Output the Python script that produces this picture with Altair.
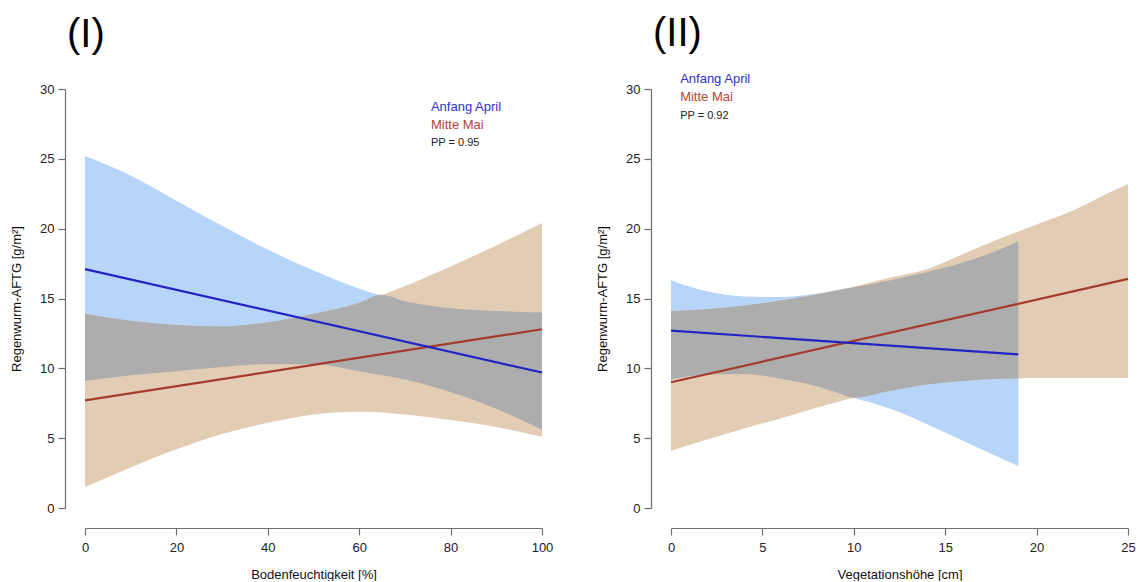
import altair as alt
import numpy as np
import pandas as pd

# ---- (I) Bodenfeuchtigkeit [%] ----
soil_x = [0, 10, 20, 30, 40, 50, 60, 70, 80, 90, 100]
soil_april_lo = [9.1, 9.5, 9.8, 10.1, 10.3, 10.3, 9.8, 9.2, 8.3, 7.1, 5.6]
soil_april_hi = [25.2, 23.8, 22.0, 20.2, 18.5, 17.0, 15.7, 14.8, 14.3, 14.1, 14.0]
soil_mai_lo = [1.5, 2.9, 4.2, 5.3, 6.1, 6.7, 6.9, 6.7, 6.3, 5.8, 5.1]
soil_mai_hi = [13.9, 13.4, 13.1, 13.0, 13.3, 13.9, 14.7, 15.9, 17.3, 18.8, 20.4]
soil_line_x = [0, 100]
soil_april_line = [17.1, 9.7]
soil_mai_line = [7.7, 12.8]

# ---- (II) Vegetationshöhe [cm] ----
veg_april_x = [0, 2, 4, 6, 8, 10, 12, 14, 16, 18, 19]
veg_april_lo = [9.2, 9.55, 9.6, 9.25, 8.7, 7.9, 7.1, 6.0, 4.8, 3.6, 3.0]
veg_april_hi = [16.3, 15.5, 15.15, 15.1, 15.35, 15.8, 16.3, 16.9, 17.6, 18.5, 19.1]
veg_mai_x = [0, 2, 4, 6, 8, 10, 12, 14, 16, 18, 19, 20, 22, 24, 25]
veg_mai_lo = [4.1, 4.9, 5.7, 6.4, 7.2, 7.9, 8.4, 8.85, 9.1, 9.25, 9.28, 9.3, 9.3, 9.3, 9.3]
veg_mai_hi = [14.1, 14.25, 14.5, 14.85, 15.3, 15.85, 16.5, 17.1, 18.2, 19.3, 19.8, 20.3, 21.3, 22.6, 23.2]
veg_april_line_x = [0, 19]
veg_april_line = [12.7, 11.0]
veg_mai_line_x = [0, 25]
veg_mai_line = [9.0, 16.4]

series_names = ["Anfang April", "Mitte Mai"]
series_text_colors = ["#3030d0", "#b0463a"]
pp_texts = ["PP = 0.95", "PP = 0.92"]

y_ticks = [0, 5, 10, 15, 20, 25, 30]
y_title = "Regenwurm-AFTG [g/m²]"

APRIL_FILL = "#b6d5f8"
MAI_FILL = "#e2cdb4"
BOTH_FILL = "#adadad"
APRIL_LINE = "#2424c4"
MAI_LINE = "#a53b2c"


def band(x, lo, hi):
    return pd.DataFrame({"x": x, "lo": lo, "hi": hi})


def overlap(x, lo_a, hi_a, x_b, lo_b, hi_b):
    """Region covered by both bands, on x plus the points where edges cross."""
    x = np.asarray(x, float)
    la, ha = np.asarray(lo_a, float), np.asarray(hi_a, float)
    lb = np.interp(x, x_b, lo_b)
    hb = np.interp(x, x_b, hi_b)
    xs = list(x)
    for p, q in [(ha, hb), (la, lb)]:
        d = p - q
        for i in range(len(x) - 1):
            if d[i] * d[i + 1] < 0:
                t = d[i] / (d[i] - d[i + 1])
                xs.append(x[i] + t * (x[i + 1] - x[i]))
    xs = np.array(sorted(set(xs)))
    lo = np.maximum(np.interp(xs, x, la), np.interp(xs, x_b, lo_b))
    hi = np.minimum(np.interp(xs, x, ha), np.interp(xs, x_b, hi_b))
    return pd.DataFrame({"x": xs, "lo": lo, "hi": hi})


def panel(title, title_offset, x_title, x_domain, x_ticks, bands, lines, legend_df):
    def xe():
        return alt.X(
            "x:Q",
            scale=alt.Scale(domain=x_domain, nice=False, zero=False),
            axis=alt.Axis(values=x_ticks, title=x_title),
        )

    def ye(field):
        return alt.Y(
            f"{field}:Q",
            scale=alt.Scale(domain=[0, 30], nice=False, zero=False),
            axis=alt.Axis(values=y_ticks, title=y_title),
        )

    layers = []
    for df, fill in bands:
        layers.append(
            alt.Chart(df)
            .mark_area(color=fill, opacity=1, interpolate="monotone")
            .encode(x=xe(), y=ye("lo"), y2="hi:Q")
        )
    for df, col in lines:
        layers.append(
            alt.Chart(df)
            .mark_line(color=col, strokeWidth=2.2)
            .encode(x=xe(), y=ye("y"))
        )
    layers.append(
        alt.Chart(legend_df)
        .mark_text(align="left", baseline="middle", font="Liberation Sans")
        .encode(
            x=xe(),
            y=ye("y"),
            text="label:N",
            color=alt.Color("color:N", scale=None),
            size=alt.Size("size:Q", scale=None),
        )
    )
    return alt.layer(*layers).properties(
        width=457,
        height=419,
        title=alt.TitleParams(
            title,
            anchor="start",
            frame="group",
            dx=-18,
            fontSize=40,
            fontWeight="normal",
            font="Liberation Sans",
            color="#000",
            offset=title_offset,
        ),
    )


def line_df(x, y):
    return pd.DataFrame({"x": x, "y": y})


def legend(x, ys, pp):
    return pd.DataFrame(
        {
            "x": [x, x, x],
            "y": ys,
            "label": series_names + [pp],
            "color": series_text_colors + ["#222222"],
            "size": [13, 13, 11],
        }
    )


left = panel(
    "(I)",
    28,
    "Bodenfeuchtigkeit [%]",
    [0, 100],
    [0, 20, 40, 60, 80, 100],
    [
        (band(soil_x, soil_april_lo, soil_april_hi), APRIL_FILL),
        (band(soil_x, soil_mai_lo, soil_mai_hi), MAI_FILL),
        (overlap(soil_x, soil_april_lo, soil_april_hi, soil_x, soil_mai_lo, soil_mai_hi), BOTH_FILL),
    ],
    [
        (line_df(soil_line_x, soil_mai_line), MAI_LINE),
        (line_df(soil_line_x, soil_april_line), APRIL_LINE),
    ],
    legend(75.7, [28.7, 27.4, 26.1], pp_texts[0]),
)

right = panel(
    "(II)",
    19,
    "Vegetationshöhe [cm]",
    [0, 25],
    [0, 5, 10, 15, 20, 25],
    [
        (band(veg_april_x, veg_april_lo, veg_april_hi), APRIL_FILL),
        (band(veg_mai_x, veg_mai_lo, veg_mai_hi), MAI_FILL),
        (overlap(veg_april_x, veg_april_lo, veg_april_hi, veg_mai_x, veg_mai_lo, veg_mai_hi), BOTH_FILL),
    ],
    [
        (line_df(veg_mai_line_x, veg_mai_line), MAI_LINE),
        (line_df(veg_april_line_x, veg_april_line), APRIL_LINE),
    ],
    legend(0.5, [30.7, 29.4, 28.1], pp_texts[1]),
)

chart = (
    alt.hconcat(left, right, spacing=43)
    .properties(padding={"left": 10, "top": 14, "right": 0, "bottom": 0})
    .configure_view(strokeWidth=0)
    .configure_axis(
        grid=False,
        offset=20,
        tickSize=7,
        domainColor="#6e6e6e",
        tickColor="#6e6e6e",
        domainWidth=1.2,
        tickWidth=1.2,
        labelFont="Liberation Sans",
        labelFontSize=13,
        labelColor="#222222",
        titleFont="Liberation Sans",
        titleFontSize=13,
        titleFontWeight="normal",
        titleColor="#111111",
        labelFlush=False,
        labelOverlap=False,
    )
    .configure_axisX(labelPadding=6, titlePadding=14)
    .configure_axisY(labelPadding=4, titlePadding=16)
)

chart.save("out.html", embed_options={"renderer": "svg", "actions": False})
